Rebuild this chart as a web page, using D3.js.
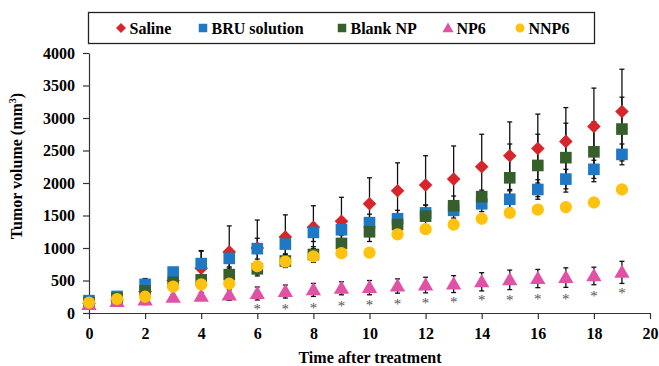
<!DOCTYPE html>
<html>
<head>
<meta charset="utf-8">
<script src="https://cdn.jsdelivr.net/npm/d3@7"></script>
<style>
  body { margin: 0; background: #fff; }
  text { font-family: "Liberation Serif", "Times New Roman", serif; font-weight: bold; }
</style>
</head>
<body>
<svg id="chart" width="659" height="366"></svg>
<script>
// Days after treatment
var DAYS = [0, 1, 2, 3, 4, 5, 6, 7, 8, 9, 10, 11, 12, 13, 14, 15, 16, 17, 18, 19];
// Mean tumor volume per group (mm3) and its error bar
var SALINE    = [150, 200, 330, 500, 690, 940, 1000, 1170, 1320, 1410, 1680, 1880, 1970, 2060, 2250, 2420, 2530, 2640, 2870, 3100];
var SALINE_SD = [20, 30, 200, 100, 270, 400, 430, 340, 330, 370, 400, 430, 450, 510, 500, 520, 530, 520, 590, 650];
var BRU       = [190, 255, 440, 630, 760, 840, 990, 1060, 1240, 1280, 1390, 1450, 1540, 1580, 1680, 1750, 1900, 2060, 2210, 2440];
var BRU_SD    = [20, 30, 60, 60, 190, 130, 160, 150, 140, 150, 130, 130, 120, 120, 120, 130, 150, 150, 140, 160];
var BLANK     = [160, 230, 340, 470, 510, 590, 680, 800, 900, 1070, 1250, 1360, 1490, 1650, 1790, 2080, 2270, 2390, 2480, 2830];
var BLANK_SD  = [20, 20, 60, 40, 70, 100, 80, 100, 120, 130, 150, 150, 170, 150, 100, 520, 480, 530, 460, 490];
var NP6       = [130, 175, 200, 240, 255, 275, 300, 330, 355, 380, 390, 415, 430, 445, 480, 510, 530, 545, 570, 625];
var NP6_SD    = [20, 20, 30, 40, 60, 80, 100, 100, 100, 100, 110, 110, 120, 130, 140, 150, 140, 150, 135, 170];
var NNP6      = [160, 215, 250, 405, 440, 450, 720, 790, 870, 920, 930, 1210, 1290, 1360, 1450, 1540, 1590, 1630, 1700, 1900];
var NNP6_SD   = [10, 20, 20, 20, 30, 30, 30, 30, 30, 30, 30, 30, 30, 30, 30, 30, 30, 30, 30, 30];
// Significance marks (day, height in mm3)
var STAR_DAYS = [6, 7, 8, 9, 10, 11, 12, 13, 14, 15, 16, 17, 18, 19];
var STAR_Y    = [108, 108, 123, 154, 169, 185, 200, 215, 246, 246, 261, 261, 308, 354];
// Axis ticks
var X_TICKS = [0, 2, 4, 6, 8, 10, 12, 14, 16, 18, 20];
var Y_TICKS = [0, 500, 1000, 1500, 2000, 2500, 3000, 3500, 4000];

var SERIES = [
  { name: 'Saline',       values: SALINE, sd: SALINE_SD, color: '#d7262b', shape: 'diamond' },
  { name: 'BRU solution', values: BRU,    sd: BRU_SD,    color: '#1f78c4', shape: 'square' },
  { name: 'Blank NP',     values: BLANK,  sd: BLANK_SD,  color: '#375f2b', shape: 'square' },
  { name: 'NP6',          values: NP6,    sd: NP6_SD,    color: '#e052a6', shape: 'triangle' },
  { name: 'NNP6',         values: NNP6,   sd: NNP6_SD,   color: '#ffc20e', shape: 'circle' }
];

var svg = d3.select('#chart');

var x = d3.scaleLinear().domain([0, 20]).range([89, 650]);
var y = d3.scaleLinear().domain([0, 4000]).range([313, 53]);

// marker path per shape
function marker(shape, s) {
  if (shape == 'diamond') return d3.symbol(d3.symbolSquare, s * s * 0.55)();
  if (shape == 'square') return d3.symbol(d3.symbolSquare, s * s * 0.8)();
  if (shape == 'triangle') return d3.symbol(d3.symbolTriangle, s * s * 0.6)();
  return d3.symbol(d3.symbolCircle, s * s * 0.7)();
}
function markerTransform(shape, px, py) {
  var t = 'translate(' + px + ',' + py + ')';
  if (shape == 'diamond') t += ' rotate(45)';
  if (shape == 'triangle') t += ' translate(0,1)';
  return t;
}

// axes
var yAxis = svg.append('g')
  .attr('transform', 'translate(89,0)')
  .call(d3.axisLeft(y).tickValues(Y_TICKS).tickFormat(d3.format('d'))
    .tickSize(6).tickSizeOuter(0).tickPadding(8));
var xAxis = svg.append('g')
  .attr('transform', 'translate(0,313)')
  .call(d3.axisBottom(x).tickValues(X_TICKS).tickFormat(d3.format('d'))
    .tickSize(6).tickSizeOuter(0).tickPadding(9));

[xAxis, yAxis].forEach(function(a) {
  a.attr('font-family', null);
  a.selectAll('path.domain').attr('stroke', '#333').attr('stroke-width', 1.2);
  a.selectAll('line').attr('stroke', '#333').attr('stroke-width', 1.2);
  a.selectAll('text')
    .attr('font-weight', 'bold')
    .attr('font-size', 16)
    .attr('fill', '#000');
});

// error bars first, markers on top
var errG = svg.append('g');
SERIES.forEach(function(s) {
  DAYS.forEach(function(d, i) {
    var v = s.values[i], e = s.sd[i];
    errG.append('line')
      .attr('x1', x(d)).attr('x2', x(d))
      .attr('y1', y(v - e)).attr('y2', y(v + e))
      .attr('stroke', '#111').attr('stroke-width', 1.3);
    [v - e, v + e].forEach(function(c) {
      errG.append('line')
        .attr('x1', x(d) - 2.5).attr('x2', x(d) + 2.5)
        .attr('y1', y(c)).attr('y2', y(c))
        .attr('stroke', '#111').attr('stroke-width', 1.3);
    });
  });
});

SERIES.forEach(function(s) {
  svg.append('g').selectAll('path')
    .data(DAYS)
    .join('path')
      .attr('d', marker(s.shape, 13))
      .attr('transform', function(d, i) { return markerTransform(s.shape, x(d), y(s.values[i])); })
      .attr('fill', s.color);
});

// significance asterisks
svg.append('g').selectAll('text')
  .data(STAR_DAYS)
  .join('text')
    .attr('x', function(d) { return x(d); })
    .attr('y', function(d, i) { return y(STAR_Y[i]) + 8; })
    .attr('text-anchor', 'middle')
    .attr('font-size', 15)
    .style('font-weight', 'normal')
    .attr('fill', '#555')
    .text('*');

// axis titles
svg.append('text')
  .attr('transform', 'translate(22,166) rotate(-90)')
  .attr('text-anchor', 'middle')
  .attr('font-size', 16)
  .text('Tumor volume (mm')
  .call(function(t) {
    t.append('tspan').attr('font-size', 10).attr('dy', -6).text('3');
    t.append('tspan').attr('dy', 6).text(')');
  });

svg.append('text')
  .attr('x', 370).attr('y', 363)
  .attr('text-anchor', 'middle')
  .attr('font-size', 16)
  .text('Time after treatment');

// legend
var legend = svg.append('g');
legend.append('rect')
  .attr('x', 88.5).attr('y', 12.5).attr('width', 506).attr('height', 31)
  .attr('fill', '#fff').attr('stroke', '#222').attr('stroke-width', 1.3);

var LEGEND_X = [121, 203, 342, 448, 520];
SERIES.forEach(function(s, i) {
  legend.append('path')
    .attr('d', marker(s.shape, 9.5))
    .attr('transform', markerTransform(s.shape, LEGEND_X[i], 28))
    .attr('fill', s.color);
  legend.append('text')
    .attr('x', LEGEND_X[i] + 8.5).attr('y', 34)
    .attr('font-size', 16)
    .text(s.name);
});
</script>
</body>
</html>
